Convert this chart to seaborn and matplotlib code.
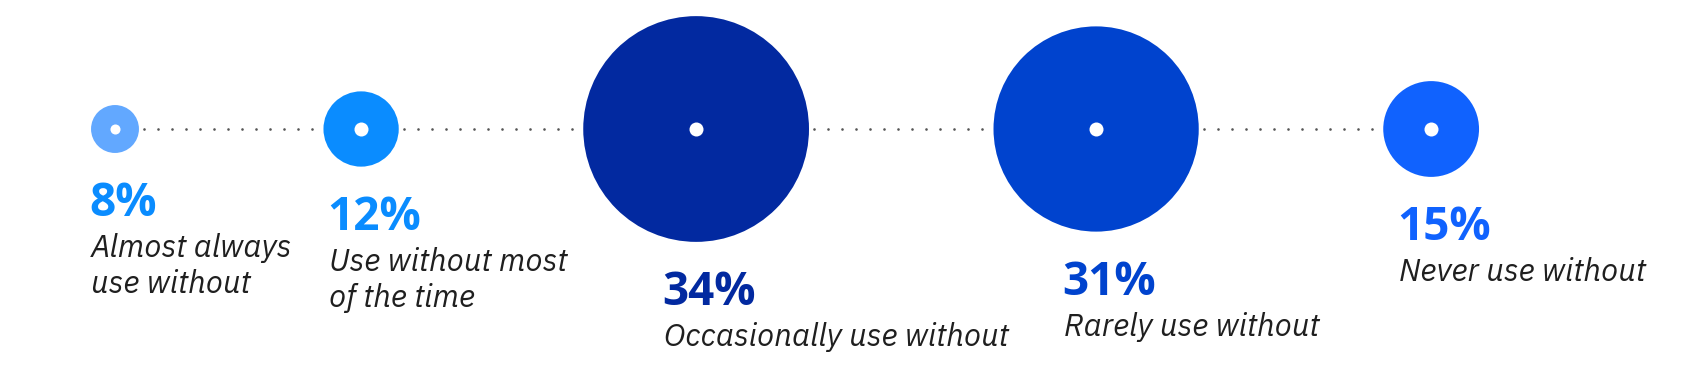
import numpy as np
import pandas as pd
import matplotlib
matplotlib.use("Agg")
import matplotlib.pyplot as plt
from matplotlib import font_manager as fm
import seaborn as sns

# ---- data ----
categories = ["Almost always\nuse without", "Use without most\nof the time",
              "Occasionally use without", "Rarely use without", "Never use without"]
values = [8, 12, 34, 31, 15]
colors = ["#62a8ff", "#0a8cff", "#0229a0", "#0043ce", "#1062fe"]
text_colors = ["#0a8cff", "#0a8cff", "#0229a0", "#0043ce", "#1062fe"]

sns.set_theme(style="white")


def pick_family(cands, weight="normal", style="normal", must=None):
    for fam in cands:
        try:
            p = fm.findfont(fm.FontProperties(family=fam, weight=weight, style=style),
                            fallback_to_default=False)
        except Exception:
            continue
        if must is None or any(m in p.lower() for m in must):
            return fam
    return "DejaVu Sans"


bold_fam = pick_family(["IBM Plex Sans", "Noto Sans", "Open Sans", "Roboto", "Inter", "Lato"],
                       weight="bold", must=["bold"])
ital_fam = pick_family(["IBM Plex Sans", "Noto Sans", "Open Sans", "Roboto", "Lato"],
                       style="italic", must=["italic", "-it", "oblique"])

W, H, DPI = 1684, 388, 100
fig = plt.figure(figsize=(W / DPI, H / DPI), dpi=DPI)
ax = fig.add_axes([0, 0, 1, 1])
ax.set_xlim(0, W)
ax.set_ylim(H, 0)
ax.axis("off")

# ---- layout (pixel units) ----
px2pt = 72.0 / DPI
radius = np.array([3.42 * v - 3.4 for v in values])   # radius grows with value
cy = 129.0
gap = 184.5
centers = [115.0]
for i in range(1, len(values)):
    centers.append(centers[-1] + radius[i - 1] + gap + radius[i])
centers = np.array(centers)

df = pd.DataFrame({"x": centers, "y": cy, "value": values, "cat": categories})

# dotted connectors
dot_x = []
for i in range(len(values) - 1):
    start = centers[i] + radius[i] + 5
    end = centers[i + 1] - radius[i + 1] - 4
    n = int(np.floor((end - start) / 14.0))
    xs = np.linspace(start, start + n * 14.0, n + 1)
    dot_x.extend(xs)
dots = pd.DataFrame({"x": dot_x, "y": cy})
sns.scatterplot(data=dots, x="x", y="y", ax=ax, s=(2.6 * px2pt) ** 2,
                color="#555555", linewidth=0, legend=False, zorder=1)

# circles
size_map = {v: (2 * r * px2pt) ** 2 for v, r in zip(values, radius)}
palette = {c: col for c, col in zip(categories, colors)}
sns.scatterplot(data=df, x="x", y="y", hue="cat", palette=palette, size="value",
                sizes=size_map, ax=ax, linewidth=0, legend=False, alpha=1, zorder=2)

# white centre dots
white_d = np.minimum(14.0, radius * 0.42)
for x, d in zip(centers, white_d):
    ax.scatter([x], [cy], s=(d * px2pt) ** 2, color="white", linewidths=0, zorder=3)

# labels
for x, r, v, cat, col in zip(centers, radius, values, categories, text_colors):
    lx = x - min(r, 32.0)
    base = cy + r + 63
    ax.text(lx - 2, base, f"{v}%", fontsize=33, fontweight="bold", color=col,
            family=[bold_fam, "DejaVu Sans"], ha="left", va="baseline")
    for j, line in enumerate(cat.split("\n")):
        ax.text(lx, base + 41 + 36 * j, line, fontsize=22.5, fontstyle="italic",
                color="#1f1f1f", family=[ital_fam, "DejaVu Sans"],
                ha="left", va="baseline")

fig.savefig("out.png", dpi=DPI, facecolor="white")
